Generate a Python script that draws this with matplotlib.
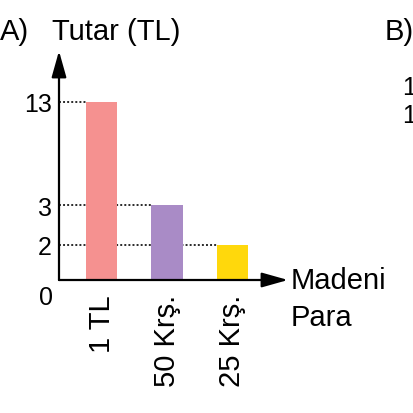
import numpy as np
import matplotlib
matplotlib.use("Agg")
import matplotlib.pyplot as plt
from matplotlib.transforms import ScaledTranslation

plt.rcParams['font.family'] = ['Liberation Sans', 'DejaVu Sans']

# data
coins = ['1 TL', '50 Krş.', '25 Krş.']
amounts = [13, 3, 2]
colors = ['#f59190', '#a98bc6', '#ffd80c']

# the chart is not drawn to scale: piecewise axis
scale_vals = [0, 2, 3, 13, 17]
scale_pos = [0, 35, 75, 178, 229]


def fwd(v):
    return np.interp(v, scale_vals, scale_pos)


def inv(p):
    return np.interp(p, scale_pos, scale_vals)


W, H = 413, 414
fig = plt.figure(figsize=(W / 100, H / 100), dpi=100)


def px(x, y):
    return x / W, 1 - y / H


left, right, bottom, top = 59, 288, 281, 52
ax = fig.add_axes([left / W, 1 - bottom / H, (right - left) / W, (bottom - top) / H])
ax.set_yscale('function', functions=(fwd, inv))

step = 65.5
ax.set_xlim(-(101.5 - left) / step, (right - 101.5) / step)
ax.set_ylim(0, 17)

bw = 0.48
x = np.arange(len(coins))
ax.bar(x, amounts, width=bw, color=colors, zorder=3)

# dotted guide lines from axis to each bar
x0 = ax.get_xlim()[0]
for xi, v in zip(x, amounts):
    ax.plot([x0, xi - bw / 2], [v, v], ls=(0, (1, 1.1)), color='#2a2a2a', lw=1.4, zorder=2)

for s in ax.spines.values():
    s.set_visible(False)

ax.set_yticks(amounts, [str(a) for a in amounts])
ax.tick_params(axis='y', length=0, pad=5, labelsize=18)
ax.set_xticks(x, coins, rotation=90)
ax.tick_params(axis='x', length=0, pad=10, labelsize=21)
ax.text(0, 0, '0', ha='right', va='center', fontsize=18,
        transform=ax.transAxes + ScaledTranslation(-6 / 100, -17 / 100, fig.dpi_scale_trans))

arrow = dict(arrowstyle='-|>,head_length=1.6,head_width=0.45', color='black', lw=1.6,
             shrinkA=0, shrinkB=0, mutation_scale=10)
ax.annotate('', xy=(1, 0), xytext=(0, 0), xycoords='axes fraction', arrowprops=arrow)
ax.annotate('', xy=(0, 1), xytext=(0, 0), xycoords='axes fraction', arrowprops=arrow)

fig.text(*px(0, 32), 'A)', fontsize=21, ha='left', va='center')
fig.text(*px(52, 32), 'Tutar (TL)', fontsize=21, ha='left', va='center')
fig.text(*px(385, 32), 'B)', fontsize=21, ha='left', va='center')
fig.text(*px(402, 88), '1', fontsize=18, ha='left', va='center')
fig.text(*px(402, 116), '1', fontsize=18, ha='left', va='center')
fig.text(*px(291, 281), 'Madeni', fontsize=21, ha='left', va='center')
fig.text(*px(291, 318), 'Para', fontsize=21, ha='left', va='center')

fig.savefig('out.png', dpi=100)
